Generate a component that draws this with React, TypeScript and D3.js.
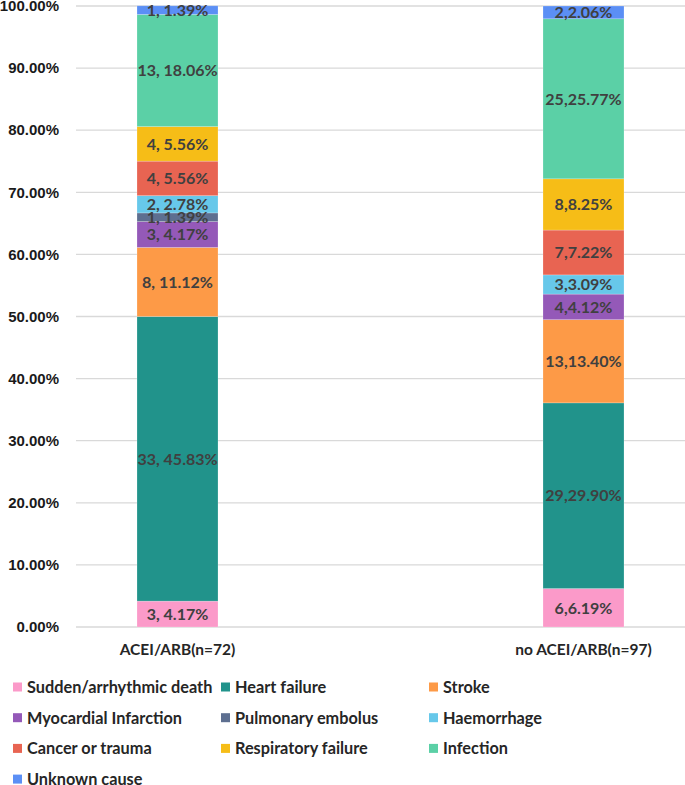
import React from "react";
import * as d3 from "d3";

const categories = ["ACEI/ARB(n=72)", "no ACEI/ARB(n=97)"];
const causes = [
  "Sudden/arrhythmic death",
  "Heart failure",
  "Stroke",
  "Myocardial Infarction",
  "Pulmonary embolus",
  "Haemorrhage",
  "Cancer or trauma",
  "Respiratory failure",
  "Infection",
  "Unknown cause",
];
const colors = [
  "#fb9ac9", "#21938b", "#fd9a47", "#9459b8", "#5d6f90",
  "#67c8ea", "#e86452", "#f6bd17", "#5bd0a6", "#5b8ff5",
];
const countsACEI = [3, 33, 8, 3, 1, 2, 4, 4, 13, 1];
const pctACEI = [4.17, 45.83, 11.12, 4.17, 1.39, 2.78, 5.56, 5.56, 18.06, 1.39];
const countsNo = [6, 29, 13, 4, 0, 3, 7, 8, 25, 2];
const pctNo = [6.19, 29.9, 13.4, 4.12, 0, 3.09, 7.22, 8.25, 25.77, 2.06];
const yTicks = [0, 10, 20, 30, 40, 50, 60, 70, 80, 90, 100];

const W = 685;
const H = 785;

export default function App() {
  const y = d3.scaleLinear().domain([0, 100]).range([627, 6]);
  const x = d3.scalePoint<string>().domain(categories).range([177.5, 583.5]);
  const barW = 81;

  const series = [
    { cat: categories[0], counts: countsACEI, pcts: pctACEI, sep: ", " },
    { cat: categories[1], counts: countsNo, pcts: pctNo, sep: "," },
  ];

  const labelFont = "Lato, 'Open Sans', sans-serif";

  return (
    <div style={{ position: "absolute", left: 0, top: 0 }}>
      <svg width={W} height={H} style={{ display: "block" }}>
        <rect width={W} height={H} fill="#fff" />
        {yTicks.map((t) => (
          <g key={t}>
            <line x1={76} x2={W} y1={y(t)} y2={y(t)} stroke="#d9d9d9" strokeWidth={1.3} />
            <text
              x={59}
              y={y(t)}
              dy="0.35em"
              textAnchor="end"
              fontFamily="'Liberation Sans', Arial, sans-serif"
              fontWeight="bold"
              fontSize={15}
              fill="#1a1a1a"
            >
              {t.toFixed(2) + "%"}
            </text>
          </g>
        ))}
        {series.map((s) => {
          let acc = 0;
          const cx = x(s.cat)!;
          return (
            <g key={s.cat}>
              {s.pcts.map((p, i) => {
                const y0 = acc;
                acc += p;
                if (p <= 0) return null;
                return (
                  <rect
                    key={i}
                    x={cx - barW / 2}
                    width={barW}
                    y={y(acc)}
                    height={y(y0) - y(acc)}
                    fill={colors[i]}
                    stroke="#ffffff"
                    strokeOpacity={0.35}
                    strokeWidth={0.6}
                  />
                );
              })}
            </g>
          );
        })}
        {series.map((s) => {
          let acc = 0;
          const cx = x(s.cat)!;
          return (
            <g key={s.cat + "l"}>
              {s.pcts.map((p, i) => {
                const y0 = acc;
                acc += p;
                if (p <= 0) return null;
                return (
                  <text
                    key={i}
                    x={cx}
                    y={(y(acc) + y(y0)) / 2}
                    dy="0.36em"
                    textAnchor="middle"
                    fontFamily={labelFont}
                    fontWeight="bold"
                    fontSize={16}
                    fill="#404040"
                  >
                    {s.counts[i] + s.sep + p.toFixed(2) + "%"}
                  </text>
                );
              })}
            </g>
          );
        })}
        {categories.map((c) => (
          <text
            key={c}
            x={x(c)!}
            y={649}
            dy="0.36em"
            textAnchor="middle"
            fontFamily={labelFont}
            fontWeight="bold"
            fontSize={15.5}
            fill="#262626"
          >
            {c}
          </text>
        ))}
        {causes.map((c, i) => {
          const col = i % 3;
          const row = Math.floor(i / 3);
          const lx = [13, 221, 429][col];
          const ly = 687 + row * 30.7;
          return (
            <g key={c}>
              <rect x={lx} y={ly - 4.5} width={9} height={9} fill={colors[i]} />
              <text
                x={lx + 14}
                y={ly}
                dy="0.36em"
                fontFamily={labelFont}
                fontWeight="bold"
                fontSize={16.3}
                fill="#262626"
              >
                {c}
              </text>
            </g>
          );
        })}
      </svg>
    </div>
  );
}
